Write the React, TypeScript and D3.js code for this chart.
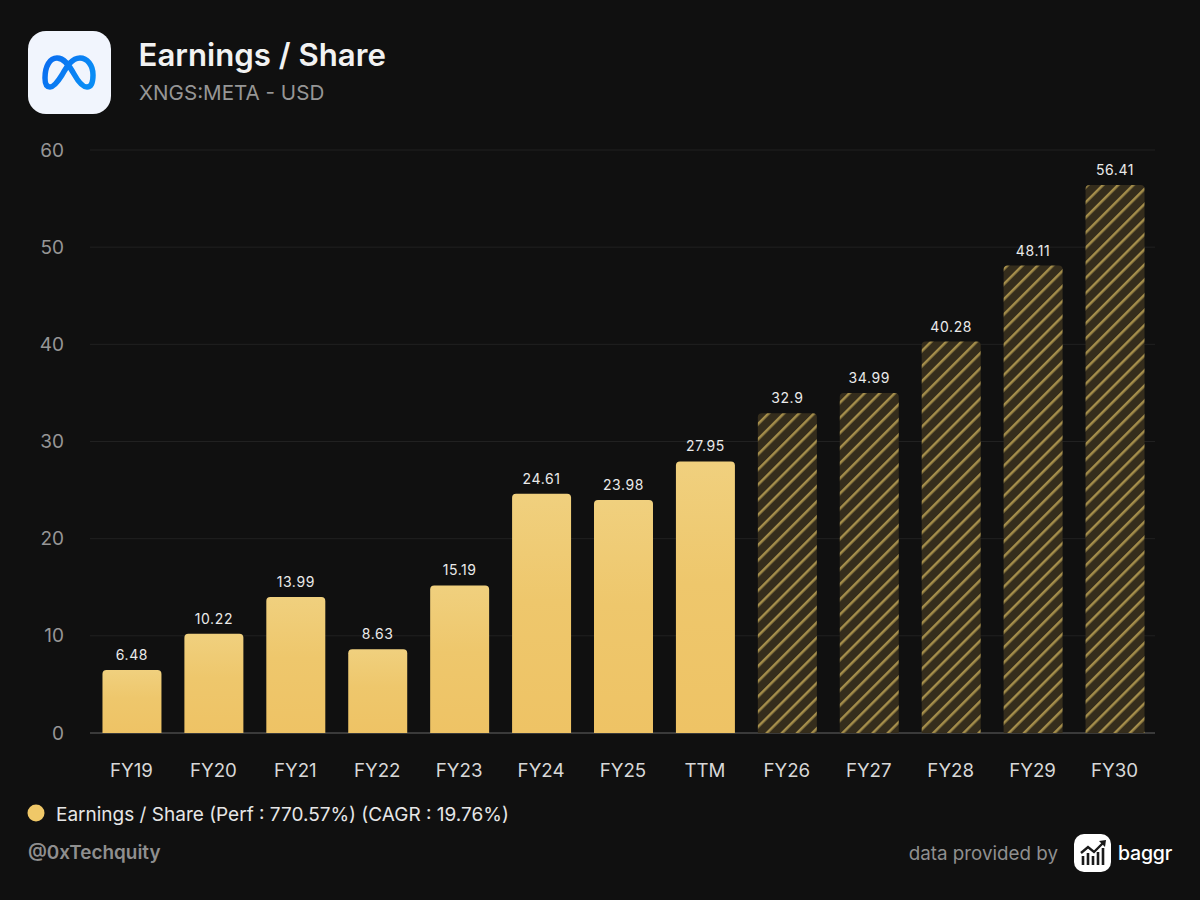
import React from 'react';
import * as d3 from 'd3';

const categories = ['FY19', 'FY20', 'FY21', 'FY22', 'FY23', 'FY24', 'FY25', 'TTM', 'FY26', 'FY27', 'FY28', 'FY29', 'FY30'];
const values = [6.48, 10.22, 13.99, 8.63, 15.19, 24.61, 23.98, 27.95, 32.9, 34.99, 40.28, 48.11, 56.41];
const valueLabels = ['6.48', '10.22', '13.99', '8.63', '15.19', '24.61', '23.98', '27.95', '32.9', '34.99', '40.28', '48.11', '56.41'];
const estimates = ['FY26', 'FY27', 'FY28', 'FY29', 'FY30'];
const yTicks = [0, 10, 20, 30, 40, 50, 60];

const FONT = 'Inter, sans-serif';

const x = d3.scaleBand<string>().domain(categories).range([91, 1156]).paddingInner(0.28).paddingOuter(0.14);
const y = d3.scaleLinear().domain([0, 60]).range([733, 150]);

// rounded on top, square on the baseline
const barPath = (name: string, v: number) => {
  const p = d3.path();
  const x0 = x(name) as number;
  const x1 = x0 + x.bandwidth();
  const top = y(v);
  const r = 4;
  p.moveTo(x0, y(0));
  p.lineTo(x0, top + r);
  p.arcTo(x0, top, x0 + r, top, r);
  p.lineTo(x1 - r, top);
  p.arcTo(x1, top, x1, top + r, r);
  p.lineTo(x1, y(0));
  p.closePath();
  return p.toString();
};

const App = () => (
  <svg width={1200} height={900} style={{ position: 'absolute', left: 0, top: 0 }} fontFamily={FONT}>
    <defs>
      <linearGradient id="bar-fill" x1="0" y1="0" x2="0" y2="1">
        <stop offset="0%" stopColor="#f0d07e" />
        <stop offset="45%" stopColor="#eec76c" />
        <stop offset="100%" stopColor="#eec365" />
      </linearGradient>
      <linearGradient id="meta-fill" x1="0" y1="0" x2="1" y2="0.4">
        <stop offset="0%" stopColor="#0a6cf0" />
        <stop offset="100%" stopColor="#0a8cf5" />
      </linearGradient>
      <pattern id="hatch" width={10.7} height={10.7} patternUnits="userSpaceOnUse" patternTransform="rotate(45)">
        <rect width={10.7} height={10.7} fill="#352d1c" />
        <rect x={0} width={2.5} height={10.7} fill="#a58e4b" />
      </pattern>
    </defs>

    <rect width={1200} height={900} fill="#101010" />

    {/* header */}
    <rect x={28} y={31} width={83} height={83} rx={18} fill="#f1f5fd" />
    <path
      d="M45 78C45 66 50 58 57 58C64 58 69 65 74 74C79 83 83 87 87 87C91 87 93 83 93 75C93 65 87 58 80 58C72 58 67 66 62 75C57 83 53 87 50 87C47 87 45 84 45 78Z"
      fill="none"
      stroke="url(#meta-fill)"
      strokeWidth={5.5}
    />
    <text x={138.5} y={66} fontSize={31.2} fontWeight={600} fill="#f2f2f2">Earnings / Share</text>
    <text x={139} y={100} fontSize={20.6} fill="#969696">XNGS:META - USD</text>

    {/* grid */}
    {yTicks.map((t) => (
      <g key={t}>
        <line x1={90} x2={1155} y1={y(t)} y2={y(t)} stroke={t === 0 ? '#3a3a3a' : '#212121'} strokeWidth={t === 0 ? 2 : 1} />
        <text x={64} y={y(t) + 6.5} textAnchor="end" fontSize={19} fill="#969696">{t}</text>
      </g>
    ))}

    {/* bars */}
    {categories.map((c, i) => (
      <g key={c}>
        <path d={barPath(c, values[i])} fill={estimates.includes(c) ? 'url(#hatch)' : 'url(#bar-fill)'} />
        <text x={(x(c) as number) + x.bandwidth() / 2} y={y(values[i]) - 10} textAnchor="middle" fontSize={14} letterSpacing={0.6} fill="#eaeaea">
          {valueLabels[i]}
        </text>
        <text x={(x(c) as number) + x.bandwidth() / 2 - 0.5} y={777} textAnchor="middle" fontSize={18.7} fill="#d8d8d8">{c}</text>
      </g>
    ))}

    {/* legend */}
    <circle cx={36} cy={813} r={8.5} fill="#f0c868" />
    <text x={56} y={820.5} fontSize={19} fill="#e6e6e6">Earnings / Share (Perf : 770.57%) (CAGR : 19.76%)</text>

    {/* footer */}
    <text x={28} y={859} fontSize={18.9} fontWeight={600} fill="#8f8f8f">@0xTechquity</text>
    <text x={1058} y={860} textAnchor="end" fontSize={18.8} fill="#8f8f8f">data provided by</text>
    <rect x={1074} y={834} width={37} height={38} rx={10} fill="#ffffff" />
    <path d="M1083 865V856M1088 865V853M1093 865V856M1098 865V852M1103 865V848" stroke="#1a1a1a" strokeWidth={2.6} fill="none" />
    <path d="M1081 853L1088 847L1094 852L1104 842" stroke="#1a1a1a" strokeWidth={2.4} fill="none" />
    <path d="M1099 841L1106 840L1105 847Z" fill="#1a1a1a" />
    <text x={1118} y={860} fontSize={19.5} fontWeight={500} letterSpacing={-0.2} fill="#ffffff">baggr</text>
  </svg>
);

export default App;
